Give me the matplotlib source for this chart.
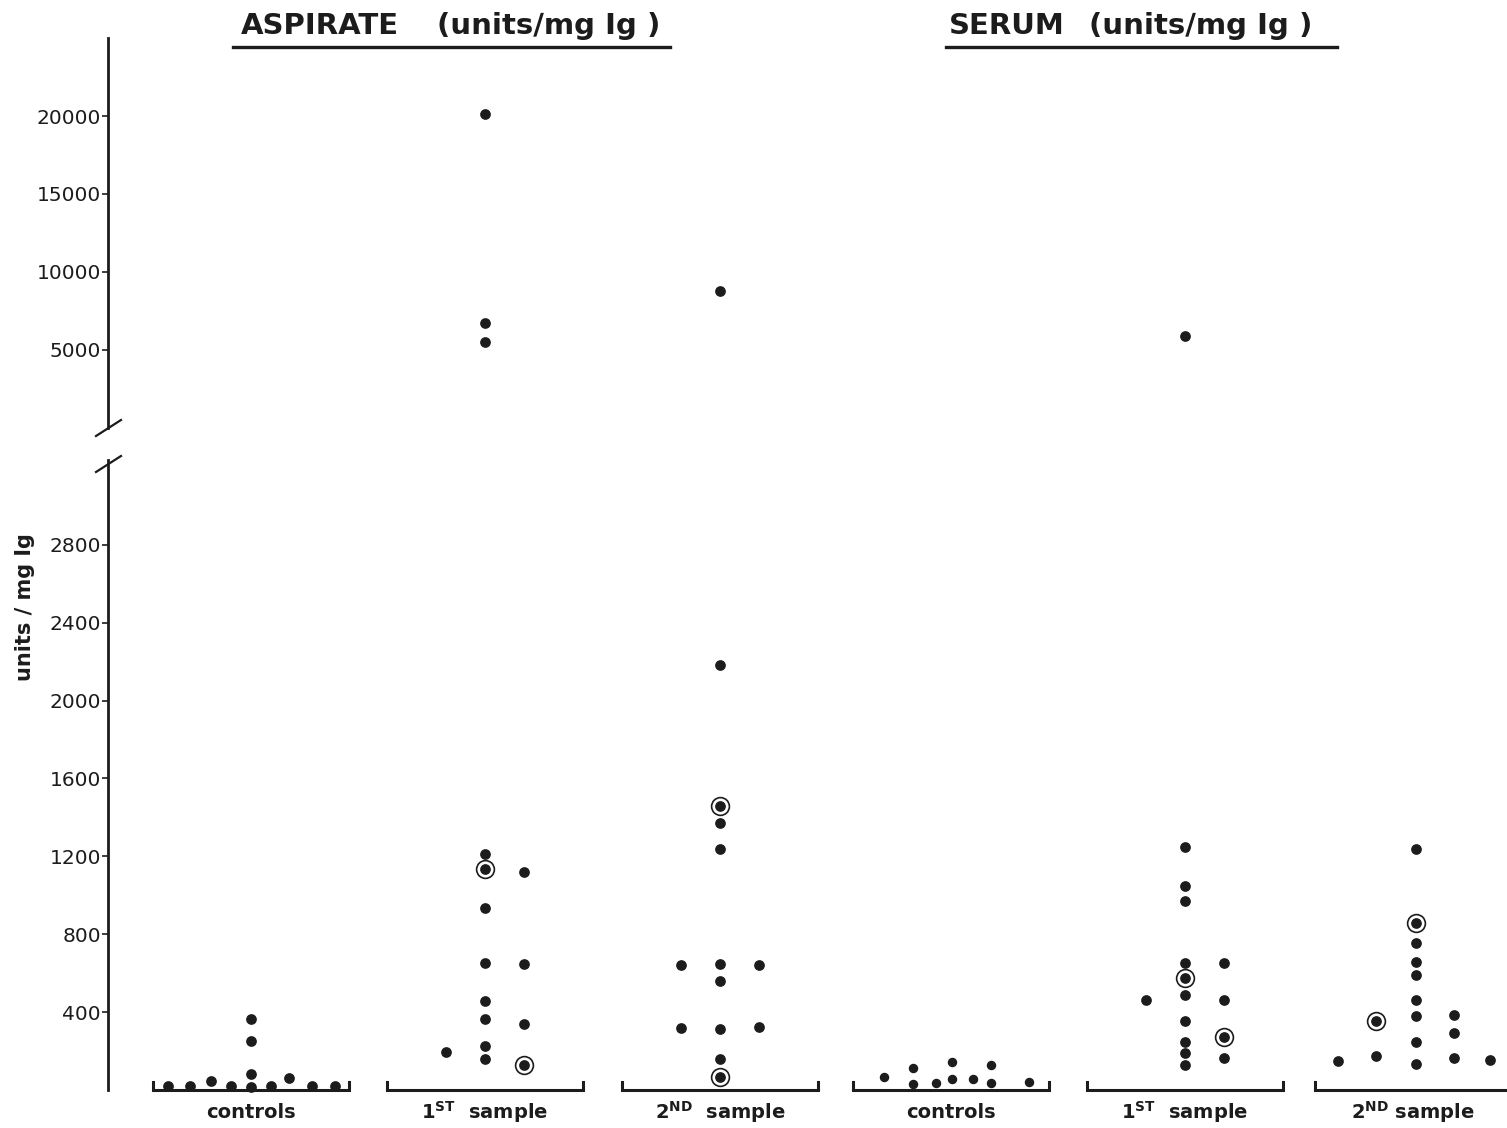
import matplotlib
matplotlib.use("Agg")
import matplotlib.pyplot as plt
from matplotlib.lines import Line2D

# ---------------- data ----------------
group_labels = ["controls", "1$^{\\mathbf{ST}}$  sample", "2$^{\\mathbf{ND}}$  sample",
                "controls", "1$^{\\mathbf{ST}}$  sample", "2$^{\\mathbf{ND}}$ sample"]

# Aspirate, controls
asp_ctrl_val = [22, 22, 45, 18, 16, 18, 60, 20, 20, 83, 254, 364]
asp_ctrl_col = [-4.3, -3.15, -2.07, -1.03, 0, 1.03, 1.96, 3.15, 4.34, 0, 0, 0]
asp_ctrl_ring = [0] * 12

# Aspirate, 1st sample
asp_1st_val = [1211, 1136, 936, 650, 457, 366, 226, 161, 197, 1121, 648, 339, 128]
asp_1st_col = [0, 0, 0, 0, 0, 0, 0, 0, -2, 2, 2, 2, 2]
asp_1st_ring = [0, 1, 0, 0, 0, 0, 0, 0, 0, 0, 0, 0, 1]
asp_1st_high = [20100, 6750, 5500]

# Aspirate, 2nd sample
asp_2nd_val = [2182, 1458, 1369, 1236, 645, 561, 313, 161, 68, 640, 317, 640, 322]
asp_2nd_col = [0, 0, 0, 0, 0, 0, 0, 0, 0, -2, -2, 2, 2]
asp_2nd_ring = [0, 1, 0, 0, 0, 0, 0, 0, 1, 0, 0, 0, 0]
asp_2nd_high = [8780]

# Serum, controls
ser_ctrl_val = [65, 113, 31, 37, 145, 58, 55, 127, 37, 41]
ser_ctrl_col = [-3.46, -1.96, -1.96, -0.77, 0.05, 0.05, 1.13, 2.07, 2.07, 4.03]
ser_ctrl_ring = [0] * 10

# Serum, 1st sample
ser_1st_val = [1250, 1050, 972, 653, 575, 486, 352, 245, 188, 130, 463, 650, 460, 271, 163]
ser_1st_col = [0, 0, 0, 0, 0, 0, 0, 0, 0, 0, -2, 2, 2, 2, 2]
ser_1st_ring = [0, 0, 0, 0, 1, 0, 0, 0, 0, 0, 0, 0, 0, 1, 0]
ser_1st_high = [5900]

# Serum, 2nd sample
ser_2nd_val = [1238, 860, 756, 658, 588, 463, 378, 245, 136, 150, 352, 173, 386, 293, 166, 156]
ser_2nd_col = [0.15] * 9 + [-3.85, -1.9, -1.9, 2.1, 2.1, 2.1, 4.0]
ser_2nd_ring = [0, 1, 0, 0, 0, 0, 0, 0, 0, 0, 1, 0, 0, 0, 0, 0]
ser_2nd_high = []

# horizontal centre of each group, in column units
group_pos = [0, 12.08, 24.21, 36.14, 48.22, 59.99]

low_ticks = [400, 800, 1200, 1600, 2000, 2400, 2800]
high_ticks = [5000, 10000, 15000, 20000]

groups = [
    (asp_ctrl_val, asp_ctrl_col, asp_ctrl_ring, []),
    (asp_1st_val, asp_1st_col, asp_1st_ring, asp_1st_high),
    (asp_2nd_val, asp_2nd_col, asp_2nd_ring, asp_2nd_high),
    (ser_ctrl_val, ser_ctrl_col, ser_ctrl_ring, []),
    (ser_1st_val, ser_1st_col, ser_1st_ring, ser_1st_high),
    (ser_2nd_val, ser_2nd_col, ser_2nd_ring, ser_2nd_high),
]

# ---------------- layout ----------------
W, H = 1507, 1128
INK = "#1c1c1c"
fig = plt.figure(figsize=(W / 100, H / 100), dpi=100)
fig.patch.set_facecolor("white")


def fx(px):
    return px / W


def fy(py):
    return 1 - py / H


left_px = 108
unit_px = 19.37
x_lo, x_hi = (left_px - 251) / unit_px, (W - 251) / unit_px
half_bracket = 5.06

ax_hi = fig.add_axes([fx(left_px), fy(428), fx(W - left_px), (428 - 38) / H])
ax_lo = fig.add_axes([fx(left_px), fy(1090), fx(W - left_px), (1090 - 460) / H])
ax_hi.set_ylim(0, 25000)
ax_lo.set_ylim(0, 3235)

for ax, ticks in ((ax_hi, high_ticks), (ax_lo, low_ticks)):
    ax.set_xlim(x_lo, x_hi)
    ax.set_facecolor("none")
    for side in ("top", "right", "bottom"):
        ax.spines[side].set_visible(False)
    ax.spines["left"].set_linewidth(2.0)
    ax.spines["left"].set_color(INK)
    ax.set_xticks([])
    ax.set_yticks(ticks)
    ax.set_yticklabels([str(t) for t in ticks])
    ax.tick_params(axis="y", direction="out", length=4, width=1.2, pad=1,
                   labelsize=14.5, colors=INK)

# break marks on the axis
for (x0, y0, x1, y1) in ((96, 436, 121, 420), (96, 472, 121, 456)):
    fig.add_artist(Line2D([fx(x0), fx(x1)], [fy(y0), fy(y1)], color=INK, lw=1.6))

# ---------------- points ----------------
for gi, (vals, cols, rings, high) in enumerate(groups):
    c = group_pos[gi]
    ms = 5.8 if gi == 3 else 6.7
    xs = [c + k for k in cols]
    ax_lo.plot(xs, vals, "o", ms=ms, color=INK, mec=INK, clip_on=False, zorder=3)
    rx = [x for x, r in zip(xs, rings) if r]
    ry = [v for v, r in zip(vals, rings) if r]
    if rx:
        ax_lo.plot(rx, ry, "o", ms=12.8, mfc="none", mec=INK, mew=1.2,
                   clip_on=False, zorder=3)
    if high:
        ax_hi.plot([c] * len(high), high, "o", ms=6.7, color=INK, clip_on=False, zorder=3)

    # bracket under each group
    tick_h = 41
    ax_lo.plot([c - half_bracket, c - half_bracket, c + half_bracket, c + half_bracket],
               [tick_h, 0, 0, tick_h], color=INK, lw=2.2, clip_on=False,
               solid_joinstyle="miter", zorder=2)
    ax_lo.annotate(group_labels[gi], xy=(c, 0), xytext=(0, -22),
                   textcoords="offset pixels", ha="center", va="center",
                   fontsize=14, fontweight="bold", color=INK, annotation_clip=False)

# ---------------- titles ----------------
title_kw = dict(fontsize=21, fontweight="bold", color=INK, va="center", ha="left")
fig.text(fx(241), fy(26), "ASPIRATE", **title_kw)
fig.text(fx(437), fy(26), "(units\u2215mg Ig )", **title_kw)
fig.text(fx(949), fy(26), "SERUM", **title_kw)
fig.text(fx(1089), fy(26), "(units\u2215mg Ig )", **title_kw)
for (a, b) in ((233, 670), (946, 1337)):
    fig.add_artist(Line2D([fx(a), fx(b)], [fy(47), fy(47)], color=INK, lw=2.4))

fig.text(fx(25), fy(607), "units / mg Ig", rotation=90, fontsize=15,
         fontweight="bold", color=INK, ha="center", va="center")

fig.savefig("out.png", dpi=100, facecolor="white")
